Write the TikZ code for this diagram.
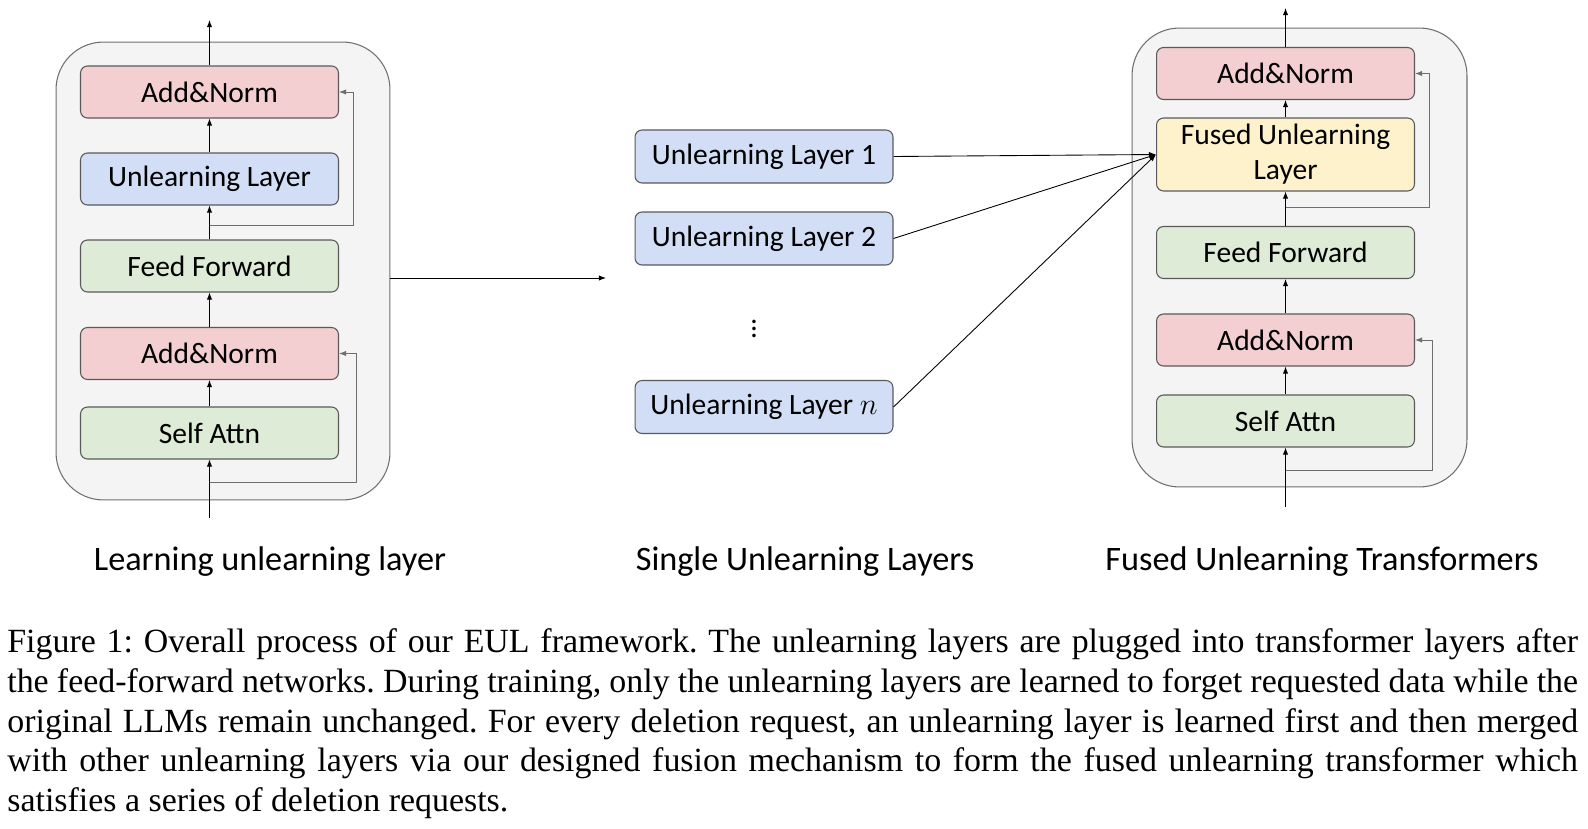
\documentclass[tikz,border=0pt]{standalone}
\usepackage{fontspec}
\setmainfont{Carlito}
\newfontfamily\capfont{Liberation Serif}
\usetikzlibrary{arrows.meta}

\definecolor{normpink}{HTML}{F3CFD2}
\definecolor{ulblue}{HTML}{D2DEF5}
\definecolor{ffgreen}{HTML}{DEEBD7}
\definecolor{fuseyellow}{HTML}{FEF2CD}
\definecolor{panelfill}{HTML}{F4F4F4}
\definecolor{edgegray}{HTML}{595959}
\definecolor{resgray}{HTML}{6E6E6E}

\begin{document}
\begin{tikzpicture}[x=0.02cm, y=-0.02cm,
  blk/.style={draw=edgegray, line width=0.6pt, rounded corners=4pt, minimum width=5.16cm, minimum height=1.04cm, inner sep=0pt, align=center, font=\fontsize{16.8}{20}\selectfont},
  panel/.style={draw=resgray, fill=panelfill, line width=0.6pt, rounded corners=0.95cm, inner sep=0pt},
  flow/.style={-{Latex[length=4pt,width=3pt]}, line width=0.5pt},
  res/.style={flow, draw=resgray},
  title/.style={anchor=base, font=\fontsize{19.5}{23}\selectfont}]
\useasboundingbox (0,0) rectangle (1588,828);

% Learning unlearning layer
\node[panel, minimum width=6.68cm, minimum height=9.16cm] (panelL) at (223,271) {};
\node[blk, fill=normpink] (addA) at (209.5,92) {Add\&Norm};
\node[blk, fill=ulblue] (ulL) at (209.5,179) {Unlearning Layer};
\node[blk, fill=ffgreen] (ffL) at (209.5,266) {Feed Forward};
\node[blk, fill=normpink] (addB) at (209.5,353.5) {Add\&Norm};
\node[blk, fill=ffgreen] (saL) at (209.5,433) {Self Attn};
\coordinate (inL) at (209.5,518);
\coordinate (outL) at (209.5,20);
\coordinate (resL1) at (209.5,482);
\coordinate (resL2) at (209.5,225);
\draw[flow] (inL) -- (saL);
\draw[flow] (saL) -- (addB);
\draw[flow] (addB) -- (ffL);
\draw[flow] (ffL) -- (ulL);
\draw[flow] (ulL) -- (addA);
\draw[flow] (addA) -- (outL);
\draw[res] (resL1) -- ++(146.5,0) |- (addB.east);
\draw[res] (resL2) -- ++(143.5,0) |- (addA.east);

\coordinate (toMid) at (606,278);
\draw[flow] (panelL.east |- toMid) -- (toMid);

% Single Unlearning Layers
\node[blk, fill=ulblue, minimum height=1.06cm] (ul1) at (764,156.5) {Unlearning Layer 1};
\node[blk, fill=ulblue, minimum height=1.06cm] (ul2) at (764,238.5) {Unlearning Layer 2};
\node[font=\fontsize{16.8}{20}\selectfont] (dots) at (754,324) {$\vdots$};
\node[blk, fill=ulblue, minimum height=1.06cm] (uln) at (764,407) {Unlearning Layer $n$};

% Fused Unlearning Transformers
\node[panel, minimum width=6.70cm, minimum height=9.18cm] (panelR) at (1299.5,257.5) {};
\node[blk, fill=normpink] (addC) at (1285.5,73.5) {Add\&Norm};
\node[blk, fill=fuseyellow, minimum height=1.46cm] (fused) at (1285.5,154.5) {Fused Unlearning\\Layer};
\node[blk, fill=ffgreen] (ffR) at (1285.5,252.5) {Feed Forward};
\node[blk, fill=normpink] (addD) at (1285.5,340) {Add\&Norm};
\node[blk, fill=ffgreen] (saR) at (1285.5,421) {Self Attn};
\coordinate (inR) at (1285.5,507);
\coordinate (outR) at (1285.5,8);
\coordinate (resR1) at (1285.5,470);
\coordinate (resR2) at (1285.5,207);
\draw[flow] (inR) -- (saR);
\draw[flow] (saR) -- (addD);
\draw[flow] (addD) -- (ffR);
\draw[flow] (ffR) -- (fused);
\draw[flow] (fused) -- (addC);
\draw[flow] (addC) -- (outR);
\draw[res] (resR1) -- ++(146.5,0) |- (addD.east);
\draw[res] (resR2) -- ++(143.5,0) |- (addC.east);

\draw[flow] (ul1.east) -- (fused.west);
\draw[flow] (ul2.east) -- (fused.west);
\draw[flow] (uln.east) -- (fused.west);

% titles
\node[title] (tL) at (270,570) {Learning unlearning layer};
\node[title] (tM) at (805,570) {Single Unlearning Layers};
\node[title] (tR) at (1322,570) {Fused Unlearning Transformers};

% caption
\node[anchor=north west, inner sep=0pt, text width=31.42cm, align=justify,
  font=\capfont\fontsize{19.3}{22.7}\selectfont] (cap) at (7,628)
  {\frenchspacing\hyphenpenalty=10000 \exhyphenpenalty=10000
  Figure 1: Overall process of our EUL framework. The unlearning layers are plugged into transformer layers after\linebreak
  the feed-forward networks. During training, only the unlearning layers are learned to forget requested data while the\linebreak
  original LLMs remain unchanged. For every deletion request, an unlearning layer is learned first and then merged\linebreak
  with other unlearning layers via our designed fusion mechanism to form the fused unlearning transformer which\linebreak
  satisfies a series of deletion requests.};
\end{tikzpicture}
\end{document}
